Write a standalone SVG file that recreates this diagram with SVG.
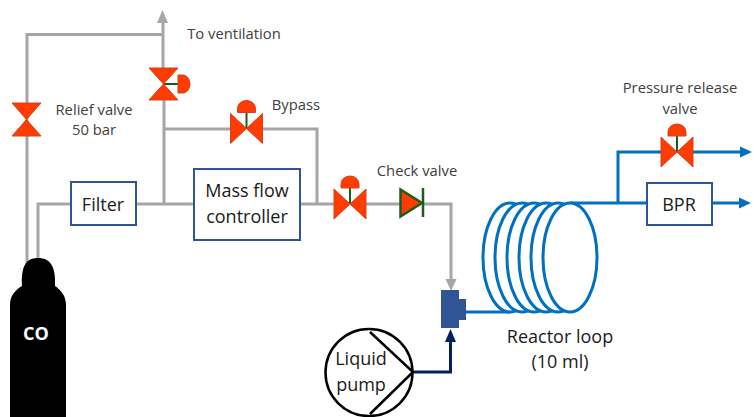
<svg xmlns="http://www.w3.org/2000/svg" width="754" height="417" viewBox="0 0 754 417">
<style>
text{font-family:"Open Sans","Noto Sans","Liberation Sans",sans-serif;fill:#404040;text-anchor:middle;font-size:14.800px}
text.big{fill:#1a1a1a;font-size:18px}
.g{fill:none;stroke:#a6a6a6;stroke-width:3}
.b{fill:none;stroke:#0070c0;stroke-width:3}
.box{fill:#fff;stroke:#2f5597;stroke-width:2}
.v{fill:#ff3c00;stroke:#d8401c;stroke-width:1}
.s{stroke:#1e5b1e;stroke-width:2;fill:none}
.coil{fill:#fff;stroke:#0070c0;stroke-width:3}
</style>
<defs>
<g id="cv"><path class="s" d="M0 0V-16"/><path class="v" d="M-9 -16V-20A9 8 0 0 1 9 -20V-16Z"/><path class="v" d="M-16 -15L16 15V-15L-16 15Z"/></g>
</defs>
<g id="connectors">
<path class="g" d="M27 268V34.500H162.500"/>
<path class="g" d="M163 22V70M164 98V204M164 129H232M260 129H317V204M38 262V204H71M136 204H194M300 204H334M365 204H402M422 204H451V282"/>
<path d="M162.500 10L168 23H157Z" fill="#a6a6a6"/>
<path d="M451 291L445.500 279H456.500Z" fill="#a6a6a6"/>
<path class="b" d="M570 203H647M618 203V152H663M692 152H742M712 203H742"/>
<path d="M752 152L740 146.500V157.500ZM751 203L739 197.500V208.500Z" fill="#0070c0"/>
<path class="b" d="M466 312H510"/>
<path d="M414 372H450.500V340" fill="none" stroke="#002060" stroke-width="3"/>
<path d="M450.500 329L456 342H445Z" fill="#002060"/>
</g>
<g id="relief-valve"><path class="v" d="M12 103H41L12 136H41Z"/><text x="94" y="115">Relief  valve</text><text x="94" y="135">50 bar</text></g>
<g id="vent-valve"><path class="s" d="M163 84H179"/><path class="v" d="M178 75H183A7 9 0 0 1 183 93H178Z"/><path class="v" d="M149 68H178L149 100H178Z"/></g>
<g id="vent-label"><text x="234" y="39">To ventilation</text></g>
<g id="bypass-valve"><use href="#cv" transform="translate(246.500,128.500)"/><text x="296" y="110">Bypass</text></g>
<g id="filter"><rect class="box" x="71" y="182" width="65" height="43"/><text class="big" x="103" y="211">Filter</text></g>
<g id="mfc"><rect class="box" x="194" y="169" width="106" height="71"/><text class="big" x="247" y="197">Mass flow</text><text class="big" x="247" y="223">controller</text></g>
<g id="valve-2"><use href="#cv" transform="translate(350,204)"/></g>
<g id="check-valve"><path d="M400.500 189.500V216.500L422 203Z" fill="#ff3c00" stroke="#1e5b1e" stroke-width="2.500"/><path d="M423 188V217" stroke="#1e5b1e" stroke-width="2.500"/><text x="417" y="176">Check valve</text></g>
<g id="pressure-release-valve"><use href="#cv" transform="translate(677,152)"/><text x="680" y="93">Pressure release</text><text x="680" y="114">valve</text></g>
<g id="bpr"><rect class="box" x="647" y="183" width="65" height="42"/><text class="big" x="679" y="211">BPR</text></g>
<g id="reactor-loop">
<ellipse class="coil" cx="510" cy="257.500" rx="27" ry="54.500"/>
<ellipse class="coil" cx="522" cy="257.500" rx="27" ry="54.500"/>
<ellipse class="coil" cx="534" cy="257.500" rx="27" ry="54.500"/>
<ellipse class="coil" cx="546" cy="257.500" rx="27" ry="54.500"/>
<ellipse class="coil" cx="558" cy="257.500" rx="27" ry="54.500"/>
<ellipse class="coil" cx="570" cy="257.500" rx="27" ry="54.500"/>
<text x="560" y="343" class="big">Reactor loop</text>
<text x="560" y="368" class="big">(10 ml)</text>
</g>
<g id="mixer"><path d="M441 290H459V299H466V320H459V328H441Z" fill="#2f5597"/></g>
<g id="liquid-pump"><circle cx="369" cy="372.500" r="43.500" fill="#fff" stroke="#000" stroke-width="2.500"/><path d="M370 332L413 372L370 414" fill="none" stroke="#000" stroke-width="2.500"/><text class="big" x="361" y="365">Liquid</text><text class="big" x="361" y="391">pump</text></g>
<g id="co-cylinder"><path d="M10 417V305C10 296 15 290 22 286C21 266 26 258 38 258C50 258 56 266 55 286C61 290 66 296 66 305V417Z" fill="#000"/><text x="36" y="340" font-weight="bold" style="fill:#fff;font-size:18px">CO</text></g>
</svg>
